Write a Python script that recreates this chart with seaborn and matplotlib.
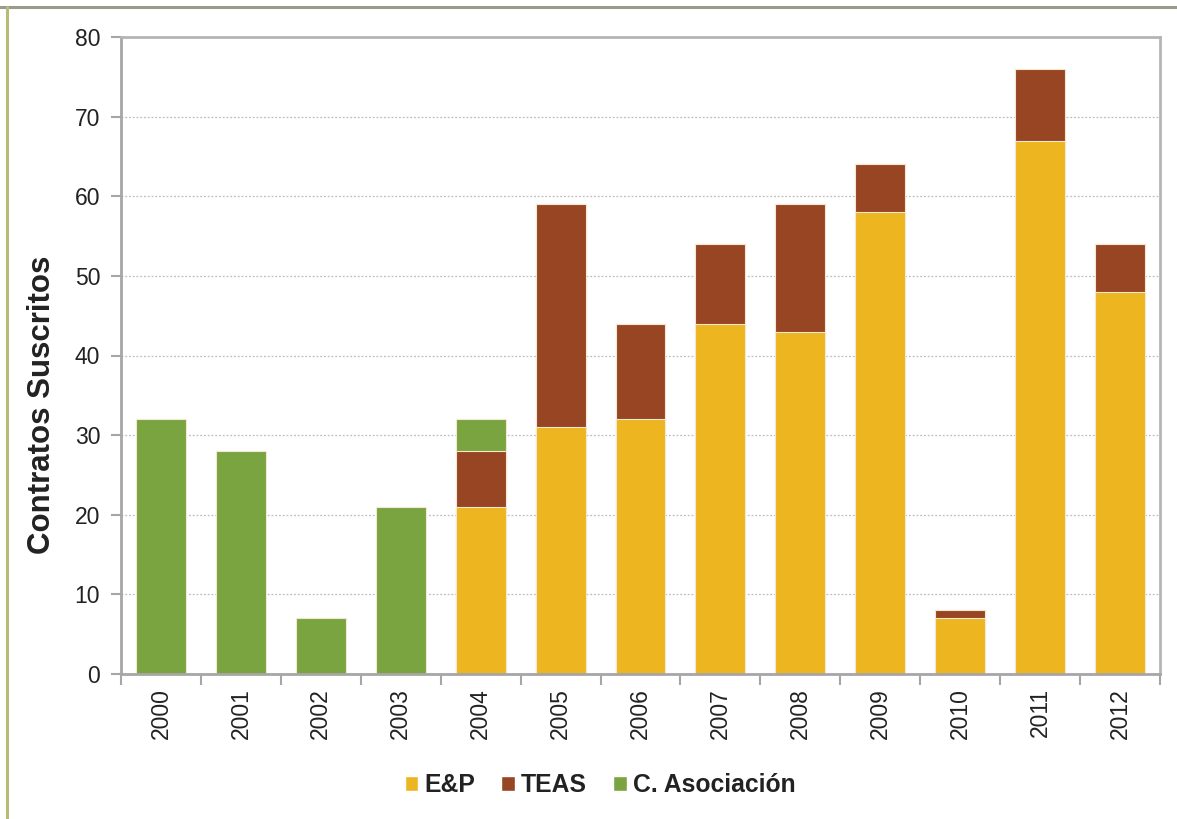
import matplotlib
matplotlib.use("Agg")
import matplotlib.pyplot as plt
import seaborn as sns
import pandas as pd
import numpy as np
from matplotlib.patches import Patch
from matplotlib.lines import Line2D

years = ["2000", "2001", "2002", "2003", "2004", "2005", "2006",
         "2007", "2008", "2009", "2010", "2011", "2012"]
ep = [0, 0, 0, 0, 21, 31, 32, 44, 43, 58, 7, 67, 48]
teas = [0, 0, 0, 0, 7, 28, 12, 10, 16, 6, 1, 9, 6]
asoc = [32, 28, 7, 21, 4, 0, 0, 0, 0, 0, 0, 0, 0]

c_ep = "#EDB51F"
c_teas = "#974522"
c_asoc = "#7AA440"

sns.set_theme(style="white")
plt.rcParams["font.family"] = ["Liberation Sans", "DejaVu Sans"]

df = pd.DataFrame({"year": years, "ep": ep, "teas": teas, "asoc": asoc})
df["lvl1"] = df["ep"]
df["lvl2"] = df["ep"] + df["teas"]
df["lvl3"] = df["ep"] + df["teas"] + df["asoc"]

fig = plt.figure(figsize=(11.77, 8.19), dpi=100)
ax = fig.add_axes([121/1177, 1 - 674/819, (1160-121)/1177, (674-37)/819])

edge = dict(edgecolor="#F4E9D0", linewidth=0.8)
for col, color in [("lvl3", c_asoc), ("lvl2", c_teas), ("lvl1", c_ep)]:
    sns.barplot(data=df, x="year", y=col, order=years, color=color,
                width=0.625, saturation=1, ax=ax, **edge, zorder=3)

ax.set_xlim(-0.5, 12.5)
ax.set_ylim(0, 80)
ax.set_yticks(range(0, 81, 10))
ax.yaxis.grid(True, linestyle=(0, (1.5, 1.5)), color="#BDBDBD", linewidth=0.9, zorder=0)
ax.xaxis.grid(False)

for s in ["left", "bottom", "right", "top"]:
    ax.spines[s].set_visible(True)
    ax.spines[s].set_color("#A6A6A6")
    ax.spines[s].set_linewidth(2)
    ax.spines[s].set_zorder(4)
ax.spines["right"].set_color("#B5B5B5")
ax.spines["top"].set_color("#B5B5B5")

ax.set_xlabel("")
ax.set_ylabel("Contratos Suscritos", fontsize=22.5, fontweight="bold", color="#222222")
ax.yaxis.set_label_coords((57 - 121) / 1039, (674 - 405) / 637)

ax.tick_params(axis="y", which="major", left=True, length=7, width=1.5, color="#A6A6A6",
               labelsize=16.5, labelcolor="#222222", pad=8, direction="out")
ax.tick_params(axis="x", which="major", bottom=False, length=0, labelsize=16.5,
               labelcolor="#222222", pad=10, labelrotation=90)
ax.set_xticks(np.arange(-0.5, 12.6, 1.0), minor=True)
ax.tick_params(axis="x", which="minor", bottom=True, length=8, width=1.5,
               color="#A6A6A6", direction="out")

handles = [Patch(facecolor=c_ep, label="E&P"),
           Patch(facecolor=c_teas, label="TEAS"),
           Patch(facecolor=c_asoc, label="C. Asociación")]
fig.legend(handles=handles, loc="center", bbox_to_anchor=(600/1177, 1 - 785/819), ncol=3,
           frameon=False, prop={"size": 17.8, "weight": "bold"}, handlelength=0.55,
           handleheight=0.55, handletextpad=0.25, columnspacing=1.05, labelcolor="#222222")

# outer frame lines
fig.add_artist(Line2D([0, 1], [1 - 6.5/819, 1 - 6.5/819], transform=fig.transFigure,
                      color="#9A9B8C", linewidth=2.2))
fig.add_artist(Line2D([6.5/1177, 6.5/1177], [0, 1 - 6.5/819], transform=fig.transFigure,
                      color="#B8BA78", linewidth=2.2))

fig.savefig("out.png", dpi=100)
